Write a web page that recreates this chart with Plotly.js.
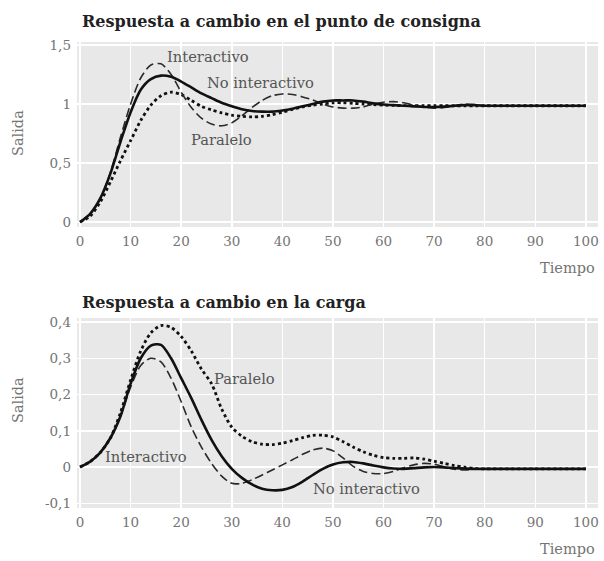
<!DOCTYPE html>
<html>
<head>
<meta charset="utf-8">
<script src="https://cdn.plot.ly/plotly-3.0.1.min.js"></script>
<style>html,body{margin:0;padding:0;background:#fff;}#chart{width:604px;height:561px;}</style>
</head>
<body>
<div id="chart"></div>
<script>
// ---- Data: time axis ----
const tiempo = [0,2,4,6,8,10,12,14,16,18,20,22,24,26,28,30,32,34,36,38,40,42,44,46,48,50,52,54,56,58,60,62,64,66,68,70,72,74,76,78,80,85,90,95,100];

// ---- Top: respuesta a cambio en el punto de consigna ----
const spNoInteractivo = [0,0.07,0.2,0.41,0.68,0.93,1.12,1.21,1.24,1.23,1.19,1.14,1.09,1.05,1.01,0.98,0.955,0.94,0.935,0.935,0.945,0.96,0.98,1.0,1.02,1.03,1.03,1.03,1.02,1.005,0.995,0.99,0.985,0.98,0.975,0.975,0.978,0.985,0.99,0.99,0.985,0.985,0.985,0.985,0.985];
const spInteractivo   = [0,0.07,0.2,0.42,0.72,1.0,1.22,1.33,1.34,1.25,1.1,0.97,0.88,0.83,0.815,0.84,0.9,0.97,1.03,1.07,1.085,1.08,1.06,1.035,1.0,0.975,0.965,0.965,0.975,1.0,1.015,1.02,1.01,0.99,0.975,0.965,0.97,0.985,1.0,0.995,0.985,0.985,0.985,0.985,0.985];
const spParalelo      = [0,0.05,0.17,0.34,0.52,0.69,0.86,0.99,1.07,1.1,1.08,1.03,0.98,0.95,0.925,0.905,0.895,0.89,0.895,0.91,0.93,0.955,0.975,0.99,1.0,1.01,1.01,1.005,1.0,0.995,0.99,0.988,0.986,0.985,0.985,0.985,0.985,0.985,0.985,0.985,0.985,0.985,0.985,0.985,0.985];

// ---- Bottom: respuesta a cambio en la carga ----
const cgNoInteractivo = [0,0.015,0.04,0.08,0.14,0.23,0.3,0.335,0.337,0.3,0.245,0.19,0.13,0.075,0.03,-0.005,-0.03,-0.048,-0.06,-0.064,-0.063,-0.055,-0.04,-0.022,-0.005,0.007,0.013,0.014,0.01,0.004,-0.001,-0.004,-0.005,-0.003,-0.001,0,-0.001,-0.003,-0.004,-0.005,-0.005,-0.005,-0.005,-0.005,-0.005];
const cgInteractivo   = [0,0.015,0.04,0.08,0.14,0.22,0.28,0.3,0.29,0.245,0.18,0.11,0.055,0.01,-0.025,-0.045,-0.045,-0.035,-0.022,-0.008,0.006,0.02,0.035,0.047,0.052,0.045,0.025,0.002,-0.012,-0.018,-0.018,-0.012,-0.002,0.006,0.01,0.008,0.0,-0.006,-0.008,-0.006,-0.005,-0.005,-0.005,-0.005,-0.005];
const cgParalelo      = [0,0.015,0.04,0.08,0.15,0.24,0.32,0.37,0.39,0.385,0.36,0.32,0.27,0.23,0.16,0.11,0.085,0.07,0.063,0.062,0.066,0.073,0.081,0.087,0.088,0.083,0.07,0.055,0.042,0.032,0.026,0.024,0.024,0.025,0.022,0.016,0.01,0.004,0,-0.004,-0.005,-0.005,-0.005,-0.005,-0.005];

// ---- Tick labels ----
const xTicks = [0,10,20,30,40,50,60,70,80,90,100];
const xTickText = ["0","10","20","30","40","50","60","70","80","90","100"];
const ySpTicks = [0,0.5,1,1.5];
const ySpTickText = ["0","0,5","1","1,5"];
const yCgTicks = [-0.1,0,0.1,0.2,0.3,0.4];
const yCgTickText = ["-0,1","0","0,1","0,2","0,3","0,4"];

// ---- Text ----
const tituloSp = "Respuesta a cambio en el punto de consigna";
const tituloCg = "Respuesta a cambio en la carga";
const ejeX = "Tiempo";
const ejeY = "Salida";

const FONT = "DejaVu Serif";
const solid = {color:'#111', width:2.6, dash:'solid', shape:'spline', smoothing:0.8};
const dashed = {color:'#2a2a2a', width:1.6, dash:'9px,4px', shape:'spline', smoothing:0.8};
const dotted = {color:'#111', width:2.8, dash:'dot', shape:'spline', smoothing:0.8};

const traces = [
  {x:tiempo, y:spParalelo, xaxis:'x', yaxis:'y', mode:'lines', line:dotted, name:'Paralelo'},
  {x:tiempo, y:spInteractivo, xaxis:'x', yaxis:'y', mode:'lines', line:dashed, name:'Interactivo'},
  {x:tiempo, y:spNoInteractivo, xaxis:'x', yaxis:'y', mode:'lines', line:solid, name:'No interactivo'},
  {x:tiempo, y:cgParalelo, xaxis:'x2', yaxis:'y2', mode:'lines', line:dotted, name:'Paralelo'},
  {x:tiempo, y:cgInteractivo, xaxis:'x2', yaxis:'y2', mode:'lines', line:dashed, name:'Interactivo'},
  {x:tiempo, y:cgNoInteractivo, xaxis:'x2', yaxis:'y2', mode:'lines', line:solid, name:'No interactivo'}
];

const tickFont = {family:FONT, size:13.5, color:'#747474'};
const xBase = {range:[-0.6,102.4], tickvals:xTicks, ticktext:xTickText, showgrid:true, gridcolor:'#ffffff', gridwidth:1.5,
  zeroline:false, showline:false, ticks:'', tickfont:tickFont, ticklabelstandoff:4, fixedrange:true};
const yBase = {showgrid:true, gridcolor:'#ffffff', gridwidth:1.5, zeroline:false, showline:false, ticks:'',
  tickfont:tickFont, ticklabelstandoff:5, fixedrange:true};

const labelFont = {family:FONT, size:14.7, color:'#555'};
const titleFont = {family:FONT, size:16, color:'#222', weight:'bold'};
const axFont = {family:FONT, size:14.5, color:'#747474'};

const layout = {
  width:604, height:561,
  margin:{l:77, r:6, t:42, b:53},
  paper_bgcolor:'#ffffff', plot_bgcolor:'#e8e8e8',
  showlegend:false,
  xaxis: Object.assign({}, xBase, {anchor:'y'}),
  yaxis: Object.assign({}, yBase, {domain:[0.603,1], range:[-0.042,1.525], tickvals:ySpTicks, ticktext:ySpTickText, anchor:'x'}),
  xaxis2: Object.assign({}, xBase, {anchor:'y2'}),
  yaxis2: Object.assign({}, yBase, {domain:[0,0.4077], range:[-0.113,0.411], tickvals:yCgTicks, ticktext:yCgTickText, anchor:'x2'}),
  annotations:[
    {text:'<b>'+tituloSp+'</b>', xref:'paper', yref:'paper', x:0.006, y:1.043, xanchor:'left', yanchor:'middle', showarrow:false, font:titleFont},
    {text:'<b>'+tituloCg+'</b>', xref:'paper', yref:'paper', x:0.006, y:0.44, xanchor:'left', yanchor:'middle', showarrow:false, font:titleFont},
    {text:ejeX, xref:'paper', yref:'paper', x:0.942, y:0.515, xanchor:'center', yanchor:'middle', showarrow:false, font:axFont},
    {text:ejeX, xref:'paper', yref:'paper', x:0.942, y:-0.088, xanchor:'center', yanchor:'middle', showarrow:false, font:axFont},
    {text:ejeY, xref:'paper', yref:'paper', x:-0.113, y:0.805, xanchor:'center', yanchor:'middle', textangle:-90, showarrow:false, font:axFont},
    {text:ejeY, xref:'paper', yref:'paper', x:-0.113, y:0.232, xanchor:'center', yanchor:'middle', textangle:-90, showarrow:false, font:axFont},
    {text:'Interactivo', xref:'x', yref:'y', x:25.3, y:1.40, showarrow:false, font:labelFont},
    {text:'No interactivo', xref:'x', yref:'y', x:35.6, y:1.18, showarrow:false, font:labelFont},
    {text:'Paralelo', xref:'x', yref:'y', x:27.9, y:0.70, showarrow:false, font:labelFont},
    {text:'Paralelo', xref:'x2', yref:'y2', x:32.6, y:0.245, showarrow:false, font:labelFont},
    {text:'Interactivo', xref:'x2', yref:'y2', x:13.1, y:0.028, showarrow:false, font:labelFont},
    {text:'No interactivo', xref:'x2', yref:'y2', x:56.7, y:-0.06, showarrow:false, font:labelFont}
  ]
};

Plotly.newPlot('chart', traces, layout, {displayModeBar:false, staticPlot:true});
</script>
</body>
</html>
